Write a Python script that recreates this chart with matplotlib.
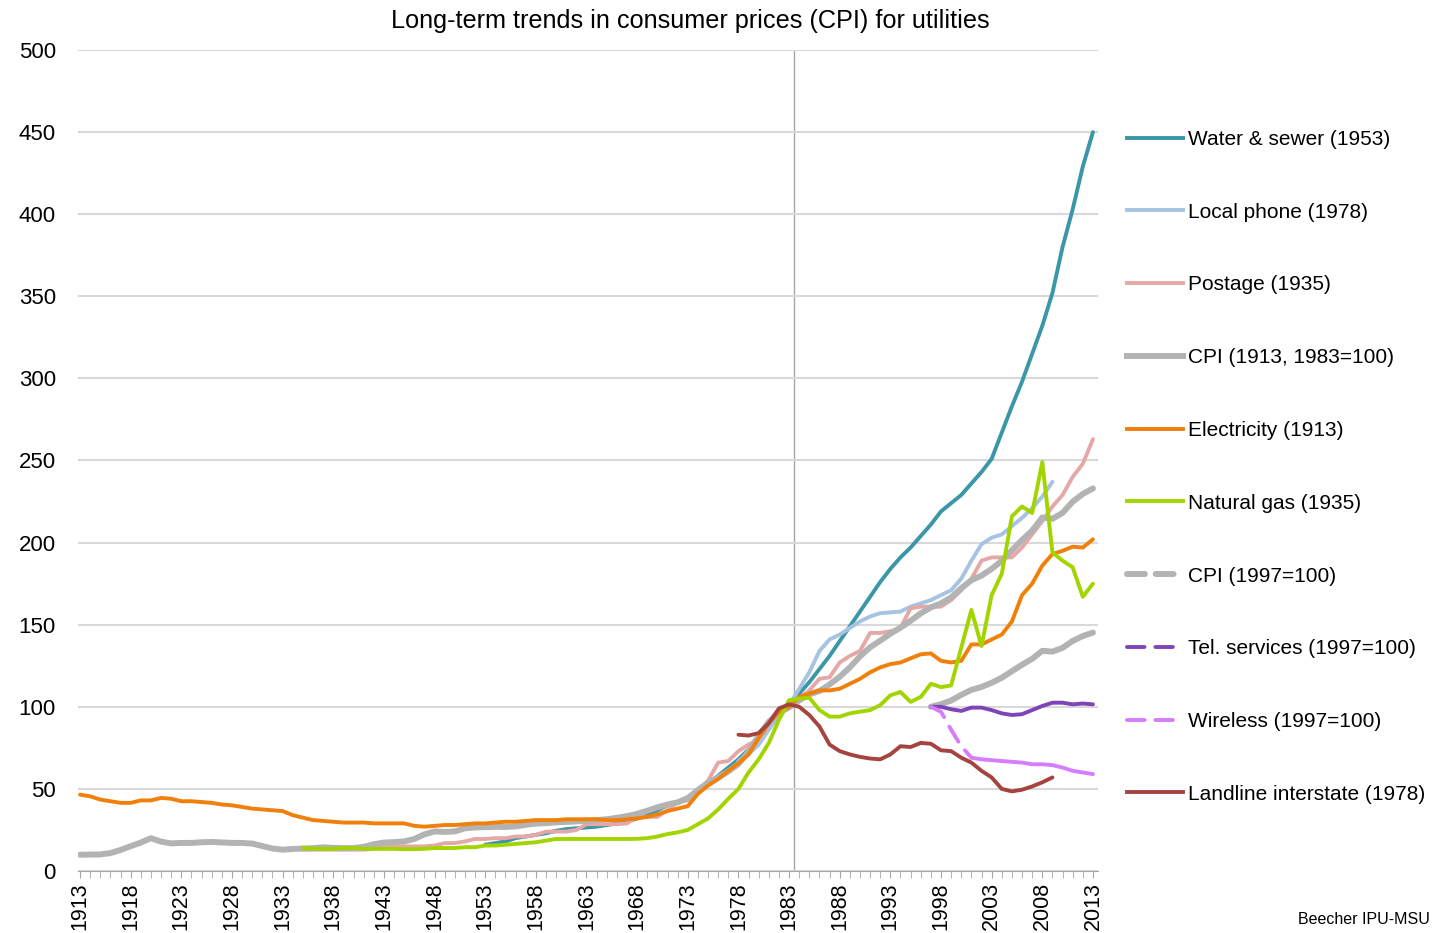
import matplotlib
matplotlib.use("Agg")
import matplotlib.pyplot as plt
from matplotlib.lines import Line2D
from matplotlib.ticker import MultipleLocator

# series values
cpi_start = 1913
cpi = [9.9, 10.0, 10.1, 10.9, 12.8, 15.1, 17.3, 20.0, 17.9, 16.8,
       17.1, 17.1, 17.5, 17.7, 17.4, 17.1, 17.1, 16.7, 15.2, 13.7,
       13.0, 13.4, 13.7, 13.9, 14.4, 14.1, 13.9, 14.0, 14.7, 16.3,
       17.3, 17.6, 18.0, 19.5, 22.3, 24.1, 23.8, 24.1, 26.0, 26.5,
       26.7, 26.9, 26.8, 27.2, 28.1, 28.9, 29.1, 29.6, 29.9, 30.2,
       30.6, 31.0, 31.5, 32.4, 33.4, 34.8, 36.7, 38.8, 40.5, 41.8,
       44.4, 49.3, 53.8, 56.9, 60.6, 65.2, 72.6, 82.4, 90.9, 96.5,
       99.6, 103.9, 107.6, 109.6, 113.6, 118.3, 124.0, 130.7, 136.2, 140.3,
       144.5, 148.2, 152.4, 156.9, 160.5, 163.0, 166.6, 172.2, 177.1, 179.9,
       184.0, 188.9, 195.3, 201.6, 207.3, 215.3, 214.5, 218.1, 224.9, 229.6,
       233.0]

elec_start = 1913
electricity = [46.5, 45.5, 43.5, 42.5, 41.5, 41.5, 43, 43, 44.5, 44,
               42.5, 42.5, 42, 41.5, 40.5, 40, 39, 38, 37.5, 37,
               36.5, 34, 32.5, 31, 30.5, 30, 29.5, 29.5, 29.5, 29,
               29, 29, 29, 27.5, 27, 27.5, 28, 28, 28.5, 29,
               29, 29.5, 30, 30, 30.5, 31, 31, 31, 31.5, 31.5,
               31.5, 31.5, 31, 31, 31.5, 32, 33, 34.5, 36.5, 38,
               39.5, 47, 52, 56, 61, 65.5, 71, 81, 90, 97,
               100, 106, 108, 110, 110, 111, 114, 117, 121, 124,
               126, 127, 129.5, 132, 132.5, 128, 127, 128, 138, 138,
               141, 144, 152, 168, 175, 186, 193, 195, 197.5, 197,
               202]

gas_start = 1935
natural_gas = [14, 13.5, 13.5, 13.5, 14, 14, 13.5, 13.5, 13.5, 13.5,
               13.3, 13.3, 13.5, 14, 14, 14, 14.5, 14.5, 15.5, 15.5,
               16, 16.5, 17, 17.5, 18.5, 19.5, 19.5, 19.5, 19.5, 19.5,
               19.5, 19.5, 19.5, 19.6, 20, 21, 22.5, 23.5, 25, 28.5,
               32, 37.5, 44, 50, 60, 68, 78, 92, 104, 105,
               105.5, 98, 94, 94, 96, 97, 98, 101, 107, 109,
               103, 106, 114, 112, 113, 136, 159, 137, 168, 181,
               216, 222, 218, 249, 194, 189, 185, 167, 175]

water_start = 1953
water = [16, 17, 18, 20, 21, 22, 23, 24.5, 25.5, 26,
         26.5, 27, 28, 29, 30, 32, 34, 37, 40, 42,
         44, 48, 53, 58, 63, 68, 74, 80, 88, 95,
         100, 108, 115, 123, 131, 140, 149, 158, 167, 176,
         184, 191, 197, 204, 211, 219, 224, 229, 236, 243,
         251, 267, 283, 298, 315, 332, 352, 380, 403, 429,
         450]

phone_start = 1978
local_phone = [67, 71, 77, 86, 95, 101, 111, 121, 134, 141,
               144, 148, 152, 155, 157, 157.5, 158, 161, 163, 165,
               168, 171, 178, 189, 199, 203, 205, 210, 215, 221,
               228, 237]

post_start = 1935
postage = [13, 13, 13, 13, 13, 13, 13, 13.5, 14.5, 15,
           15, 15, 15, 15.5, 17, 17, 18, 19.5, 19.5, 20,
           20, 21, 21, 22, 24, 24, 24, 25, 28.5, 28.5,
           28.5, 28.5, 29, 33, 33, 33, 37, 42, 43, 48,
           55, 66, 67, 73, 77, 80, 90, 97, 100, 105,
           110, 117, 118, 127, 131, 134, 145, 145, 146, 148,
           160, 161, 161, 161, 165, 171, 178, 189, 191, 191,
           191, 197, 205, 213, 222, 229, 240, 248, 263]

base97_start = 1997
cpi_1997 = [100, 101.6, 103.8, 107.3, 110.3, 112.1, 114.6, 117.7, 121.7,
            125.6, 129.2, 134.1, 133.6, 135.9, 140.1, 143.1, 145.2]
tel_services = [100, 100, 98.5, 97.5, 99.5, 99.5, 98, 96, 95,
                95.5, 98, 100.5, 102.5, 102.5, 101.5, 102, 101.5]
wireless = [100, 97, 86, 76, 69, 68, 67.5, 67, 66.5,
            66, 65, 65, 64.5, 63, 61, 60, 59]

land_start = 1978
landline = [83, 82.5, 84, 90, 99, 101.5, 100, 95, 88, 77,
            73, 71, 69.5, 68.5, 68, 71, 76, 75.5, 78, 77.5,
            73.5, 73, 69, 66, 61, 57, 50, 48.5, 49.5, 51.5,
            54, 57]

labels = ["Water & sewer (1953)", "Local phone (1978)", "Postage (1935)",
          "CPI (1913, 1983=100)", "Electricity (1913)", "Natural gas (1935)",
          "CPI (1997=100)", "Tel. services (1997=100)", "Wireless (1997=100)",
          "Landline interstate (1978)"]


def yrs(start, vals):
    return list(range(start, start + len(vals)))


plt.rcParams["font.family"] = ["Liberation Sans", "DejaVu Sans"]

fig = plt.figure(figsize=(14.5, 9.33), dpi=100)
ax = fig.add_axes([78 / 1450, 62 / 933, 1020 / 1450, 821 / 933])

c_water = "#3b96a8"
c_phone = "#a6c3e2"
c_post = "#e6a8a6"
c_cpi = "#b3b3b3"
c_elec = "#f0800a"
c_gas = "#a2d400"
c_tel = "#7e44b8"
c_wire = "#d67dff"
c_land = "#a5443e"
lw = 2.8
dash = (4.5, 2.8)

ax.plot(yrs(water_start, water), water, color=c_water, lw=lw, solid_capstyle="round")
ax.plot(yrs(phone_start, local_phone), local_phone, color=c_phone, lw=lw, solid_capstyle="round")
ax.plot(yrs(post_start, postage), postage, color=c_post, lw=lw, solid_capstyle="round")
ax.plot(yrs(cpi_start, cpi), cpi, color=c_cpi, lw=4.3, solid_capstyle="round")
ax.plot(yrs(elec_start, electricity), electricity, color=c_elec, lw=lw, solid_capstyle="round")
ax.plot(yrs(gas_start, natural_gas), natural_gas, color=c_gas, lw=lw, solid_capstyle="round")
ax.plot(yrs(base97_start, cpi_1997), cpi_1997, color=c_cpi, lw=4.3, solid_capstyle="round")
ax.plot(yrs(base97_start, tel_services), tel_services, color=c_tel, lw=lw, solid_capstyle="round")
wx = yrs(base97_start, wireless)
ax.plot(wx[:5], wireless[:5], color=c_wire, lw=lw, dashes=dash, dash_capstyle="round")
ax.plot(wx[4:], wireless[4:], color=c_wire, lw=lw, solid_capstyle="round")
ax.plot(yrs(land_start, landline), landline, color=c_land, lw=lw, solid_capstyle="round")

ax.axvline(1983.5, color="#a6a6a6", lw=1, zorder=0.5)

ax.set_xlim(1912.8, 2013.5)
ax.set_ylim(0, 500)
ax.yaxis.set_major_locator(MultipleLocator(50))
ax.set_xticks(range(1913, 2014, 5))
ax.xaxis.set_minor_locator(MultipleLocator(1))
ax.grid(axis="y", color="#d9d9d9", lw=1.5)
ax.set_axisbelow(True)
for s in ["top", "right", "left"]:
    ax.spines[s].set_visible(False)
ax.spines["bottom"].set_color("#a6a6a6")
ax.tick_params(axis="y", length=0, pad=16, labelsize=16)
ax.tick_params(axis="x", which="both", length=5, color="#a6a6a6", direction="out")
ax.tick_params(axis="x", which="major", pad=3, labelsize=15.5)
for t in ax.get_xticklabels():
    t.set_rotation(90)

fig.text(690 / 1450, 1 - 21 / 933, "Long-term trends in consumer prices (CPI) for utilities",
         ha="center", va="center", fontsize=18.2)
fig.text(1430 / 1450, 1 - 920 / 933, "Beecher IPU-MSU", ha="right", va="center",
         fontsize=11.5)

handles = [
    Line2D([], [], color=c_water, lw=lw),
    Line2D([], [], color=c_phone, lw=lw),
    Line2D([], [], color=c_post, lw=lw),
    Line2D([], [], color=c_cpi, lw=4.3),
    Line2D([], [], color=c_elec, lw=lw),
    Line2D([], [], color=c_gas, lw=lw),
    Line2D([], [], color=c_cpi, lw=4.3, dashes=(3, 1.8), dash_capstyle="round"),
    Line2D([], [], color=c_tel, lw=lw, dashes=dash, dash_capstyle="round"),
    Line2D([], [], color=c_wire, lw=lw, dashes=dash, dash_capstyle="round"),
    Line2D([], [], color=c_land, lw=lw),
]
fig.legend(handles, labels, loc="upper left", bbox_to_anchor=(1127 / 1450, 1 - 130 / 933),
           frameon=False, fontsize=15, handlelength=2.69, handletextpad=0.24,
           labelspacing=2.58, borderpad=0, borderaxespad=0)

fig.savefig("out.png", dpi=100)
